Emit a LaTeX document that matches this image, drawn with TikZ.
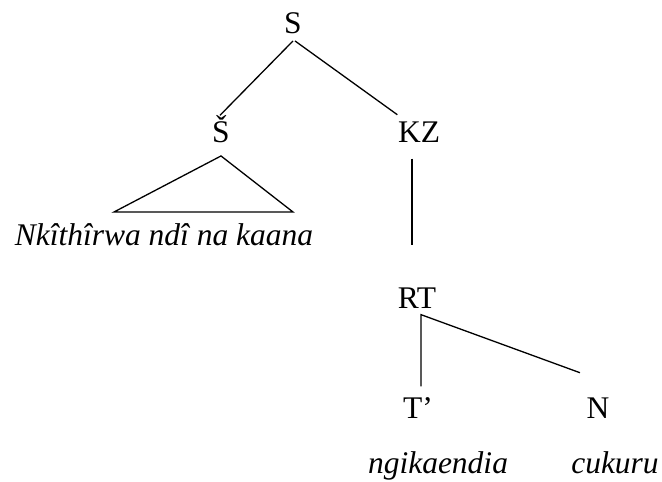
\documentclass[tikz,border=0pt]{standalone}
\usepackage{fontspec}
\setmainfont{Liberation Serif}
\begin{document}
\begin{tikzpicture}[x=1pt,y=-1pt,line width=1.3pt,
  every node/.style={inner sep=0pt,anchor=base,font=\fontsize{31.5}{38}\selectfont}]
\useasboundingbox (0,0) rectangle (662,482);
\node (S) at (293,33) {S};
\node (Sh) at (221,142) {Š};
\node (KZ) at (419,142) {KZ};
\node (lex) at (164,245) {\itshape Nkîthîrwa ndî na kaana};
\node (RT) at (417,308) {RT};
\node (Tp) at (418,418) {T’};
\node (N) at (598,418) {N};
\node (w1) at (438,473) {\itshape ngikaendia};
\node (w2) at (615,473) {\itshape cukuru};

\coordinate (triL) at (114,212);
\coordinate (triR) at (293,212);

\draw ([yshift=-7pt]S.south) -- ([shift={(-1,1)}]Sh.north);
\draw ([shift={(2,7)}]S.south) -- ([shift={(0,-6)}]KZ.north west);
\draw (triL) -- ([yshift=-13pt]Sh.south) -- (triR) -- cycle;
\draw ([shift={(-7,16)}]KZ.south) -- ([shift={(-5,-42)}]RT.north);
\draw ([shift={(3,-10)}]Tp.north) -- ([shift={(4,6)}]RT.south) -- ([shift={(-6,-24)}]N.north west);
\end{tikzpicture}
\end{document}
